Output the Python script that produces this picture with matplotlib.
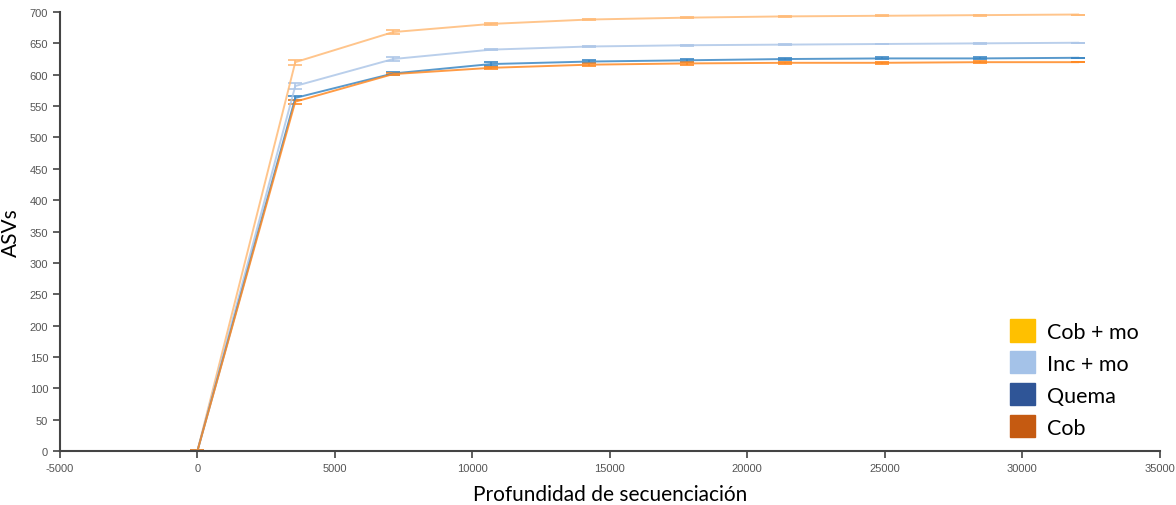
import numpy as np
import matplotlib.pyplot as plt
from matplotlib.patches import Patch

plt.rcParams['axes.unicode_minus'] = False

# sequencing depth (x) and mean ASVs per treatment
depth = [0, 3560, 7120, 10680, 14240, 17800, 21360, 24920, 28480, 32040]

cob_mo = [0, 620, 668, 681, 688, 691, 693, 694, 695, 696]
inc_mo = [0, 582, 625, 640, 645, 647, 648, 649, 650, 651]
quema = [0, 563, 602, 617, 621, 623, 625, 626, 626, 627]
cob = [0, 557, 601, 611, 616, 618, 619, 619, 620, 620]

# small error ranges around each point
err_cob_mo = [1, 4, 3, 1.5, 1, 1, 0.8, 0.8, 0.6, 0]
err_inc_mo = [1, 4, 3, 1.2, 1, 1, 0.8, 0.6, 0.6, 0]
err_quema = [1, 3, 2, 2.5, 2, 2.5, 2, 1.5, 1.5, 0]
err_cob = [1, 3, 2, 2, 2, 2, 2, 1.5, 1.5, 0]

series = [
    ("Cob + mo", cob_mo, err_cob_mo, "#ffbb78"),
    ("Inc + mo", inc_mo, err_inc_mo, "#aec7e8"),
    ("Quema", quema, err_quema, "#3d88c4"),
    ("Cob", cob, err_cob, "#ff8a24"),
]

legend_labels = ["Cob + mo", "Inc + mo", "Quema", "Cob"]
legend_colors = ["#ffc000", "#a4c2e8", "#2f5597", "#c55a11"]

fig = plt.figure(figsize=(11.76, 5.06), dpi=100)
ax = fig.add_axes([0.051, 0.1067, 0.935, 0.8676])

for name, vals, err, col in series:
    ax.errorbar(depth, vals, yerr=err, color=col, lw=1.4, alpha=0.85,
                capsize=5, capthick=1.4, elinewidth=1.4)

ax.set_xlim(-5000, 35000)
ax.set_ylim(0, 700)
ax.set_xticks(np.arange(-5000, 35001, 5000))
ax.set_yticks(np.arange(0, 701, 50))

for s in ["top", "right"]:
    ax.spines[s].set_visible(False)
for s in ["left", "bottom"]:
    ax.spines[s].set_color("#444444")
    ax.spines[s].set_linewidth(1.5)
ax.tick_params(direction="out", length=5, width=1.2, color="#444444",
               labelsize=8, labelcolor="#555555")
for lab in ax.get_xticklabels() + ax.get_yticklabels():
    lab.set_family("Liberation Sans")

ax.set_ylabel("ASVs", fontsize=15, family="Lato", labelpad=6)
ax.set_xlabel("Profundidad de secuenciación", fontsize=15, family="Lato",
              labelpad=8)

handles = [Patch(facecolor=c, edgecolor=c) for c in legend_colors]
fig.legend(handles, legend_labels, loc="upper left",
           bbox_to_anchor=(0.842, 0.405), frameon=False,
           prop={"family": "Lato", "size": 15.5},
           handlelength=1.2, handleheight=1.2, handletextpad=0.55,
           labelspacing=0.45)

fig.savefig("out.png", dpi=100)
